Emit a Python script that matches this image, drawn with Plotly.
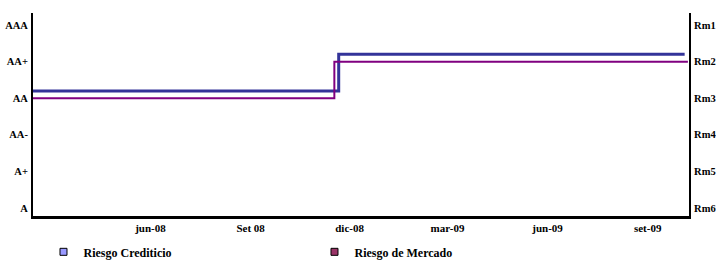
import plotly.graph_objects as go

# Data
credit_dates = ["2008-02-14", "2008-11-21", "2009-10-05"]
credit_values = [3.2, 4.2, 4.2]          # left scale (A=0 ... AAA=5)
market_dates = ["2008-02-14", "2008-11-17", "2009-10-08"]
market_values = [3.0, 4.0, 4.0]          # right scale (Rm6=0 ... Rm1=5)

left_tickvals = [0, 1, 2, 3, 4, 5]
left_ticktext = ["A", "A+", "AA-", "AA", "AA+", "AAA"]
right_ticktext = ["Rm6", "Rm5", "Rm4", "Rm3", "Rm2", "Rm1"]
x_tickvals = ["2008-06-01", "2008-09-01", "2008-12-01", "2009-03-01", "2009-06-01", "2009-09-01"]
x_ticktext = ["jun-08", "Set 08", "dic-08", "mar-09", "jun-09", "set-09"]

series_names = ["Riesgo Crediticio", "Riesgo de Mercado"]

font_family = "Liberation Serif, Times New Roman, serif"

fig = go.Figure()
fig.add_trace(go.Scatter(x=credit_dates, y=credit_values, mode="lines",
                         line=dict(color="#333399", width=3, shape="hv"),
                         showlegend=False, yaxis="y"))
fig.add_trace(go.Scatter(x=market_dates, y=market_values, mode="lines",
                         line=dict(color="#800080", width=2, shape="hv"),
                         showlegend=False, yaxis="y2"))
# legend entries
fig.add_trace(go.Scatter(x=[None], y=[None], mode="markers", name=series_names[0],
                         marker=dict(symbol="square", size=7, color="#9999FF",
                                     line=dict(color="#000000", width=1))))
fig.add_trace(go.Scatter(x=[None], y=[None], mode="markers", name=series_names[1],
                         marker=dict(symbol="square", size=7, color="#993366",
                                     line=dict(color="#000000", width=1))))

yr = [-0.22, 5.33]
fig.update_layout(
    width=716, height=260,
    margin=dict(l=33, r=27, t=13, b=44, autoexpand=False),
    paper_bgcolor="white", plot_bgcolor="white",
    font=dict(family=font_family, size=11, color="black", weight="bold"),
    xaxis=dict(type="date", range=["2008-02-14", "2009-10-09"],
               tickvals=x_tickvals, ticktext=x_ticktext, automargin=False,
               showgrid=False, zeroline=False, showline=True,
               linecolor="black", linewidth=3, ticks="", ticklabelstandoff=0),
    yaxis=dict(range=yr, tickvals=left_tickvals, ticktext=left_ticktext, automargin=False,
               tickfont=dict(size=10.5),
               showgrid=False, zeroline=False, showline=True,
               linecolor="black", linewidth=2, ticks="", ticklabelstandoff=1),
    yaxis2=dict(range=yr, tickvals=left_tickvals, ticktext=right_ticktext, automargin=False,
                overlaying="y", side="right", tickfont=dict(size=10.5),
                showgrid=False, zeroline=False, showline=True,
                linecolor="black", linewidth=2, ticks="", ticklabelstandoff=1),
    legend=dict(orientation="h", x=0.016, xanchor="left", y=-0.105, yanchor="top",
                entrywidth=226, entrywidthmode="pixels",
                font=dict(family=font_family, size=12, weight="bold"),
                bgcolor="rgba(0,0,0,0)"),
)

fig.write_html("out.html", config={"displayModeBar": False},
               post_script="document.body.style.margin='0';")
